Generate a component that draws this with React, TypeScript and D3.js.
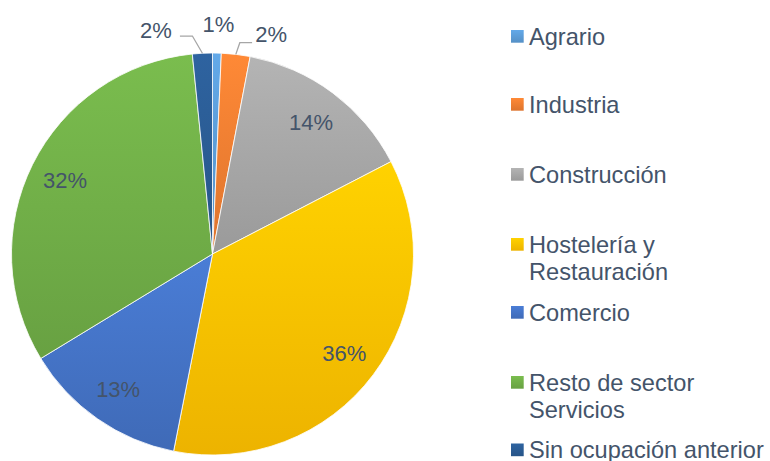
import React from "react";
import * as d3 from "d3";

const categories = [
  "Agrario",
  "Industria",
  "Construcción",
  "Hostelería y Restauración",
  "Comercio",
  "Resto de sector Servicios",
  "Sin ocupación anterior",
];
const values = [0.7, 2.3, 14.4, 35.7, 13.2, 32.1, 1.6];
const colors = ["#5B9BD5", "#ED7D31", "#A5A5A5", "#FFC000", "#4472C4", "#70AD47", "#2A5B92"];
const legendLines = [
  ["Agrario"],
  ["Industria"],
  ["Construcción"],
  ["Hostelería y", "Restauración"],
  ["Comercio"],
  ["Resto de sector", "Servicios"],
  ["Sin ocupación anterior"],
];
const legendRowY = [36.5, 104.5, 174.5, 244.5, 312.5, 382.5, 450];

const W = 770;
const H = 461;
const cx = 212.5;
const cy = 254;
const R = 201;
const TEXT = "#44546A";
const FONT = "Liberation Sans, Arial, sans-serif";

export default function App() {
  const total = d3.sum(values);
  const pie = d3.pie<number>().sort(null).value((d) => d);
  const arcs = pie(values);
  const arc = d3.arc<d3.PieArcDatum<number>>().innerRadius(0).outerRadius(R);
  const labelArc = d3.arc<d3.PieArcDatum<number>>().innerRadius(R * 0.82).outerRadius(R * 0.82);

  const outside: Record<number, { r: number; da: number; leader: "left" | "right" | null }> = {
    0: { r: 230, da: 0.2, leader: null },
    1: { r: 227, da: 8.3, leader: "right" },
    6: { r: 231, da: -11.3, leader: "left" },
  };

  const polar = (r: number, a: number) => [cx + r * Math.sin(a), cy - r * Math.cos(a)];

  return (
    <svg width={W} height={H} style={{ position: "absolute", left: 0, top: 0, background: "#fff" }}>
      <defs>
        {colors.map((c, i) => (
          <linearGradient key={i} id={`g${i}`} x1="0" y1="0" x2="0" y2="1">
            <stop offset="0" stopColor={d3.color(c)!.brighter(0.25).formatHex()} />
            <stop offset="1" stopColor={d3.color(c)!.darker(0.2).formatHex()} />
          </linearGradient>
        ))}
      </defs>
      <g transform={`translate(${cx},${cy})`}>
        {arcs.map((a, i) => (
          <path key={i} d={arc(a)!} fill={`url(#g${i})`} stroke="#fff" strokeWidth={0.8} />
        ))}
      </g>
      {arcs.map((a, i) => {
        const pct = Math.round((a.value / total) * 100) + "%";
        const mid = (a.startAngle + a.endAngle) / 2;
        const o = outside[i];
        if (!o) {
          const [x, y] = labelArc.centroid(a);
          return (
            <text key={i} x={cx + x} y={cy + y} dy="0.35em" textAnchor="middle"
              fontFamily={FONT} fontSize={22} fill={TEXT}>{pct}</text>
          );
        }
        const la = mid + (o.da * Math.PI) / 180;
        const [lx, ly] = polar(o.r, la);
        const [ex, ey] = polar(R, mid);
        let leader = null;
        if (o.leader === "left") {
          const elbowX = ex - 10;
          const elbowY = ly + 6;
          leader = <polyline points={`${ex},${ey} ${elbowX},${elbowY} ${lx + 24},${elbowY}`} fill="none" stroke="#A6A6A6" strokeWidth={1.3} />;
        } else if (o.leader === "right") {
          const elbowX = ex + 4;
          const elbowY = ly + 8;
          leader = <polyline points={`${ex},${ey} ${elbowX},${elbowY} ${lx - 19},${elbowY}`} fill="none" stroke="#A6A6A6" strokeWidth={1.3} />;
        }
        return (
          <g key={i}>
            {leader}
            <text x={lx} y={ly} dy="0.35em" textAnchor="middle" fontFamily={FONT} fontSize={22} fill={TEXT}>{pct}</text>
          </g>
        );
      })}
      <g>
        {categories.map((c, i) => (
          <g key={c} transform={`translate(511,${legendRowY[i]})`}>
            <rect x={0} y={-6.5} width={12.7} height={12.7} fill={`url(#g${i})`} />
            {legendLines[i].map((t, j) => (
              <text key={j} x={18} y={j * 27} dy="0.35em" fontFamily={FONT} fontSize={23.6} fill={TEXT}>{t}</text>
            ))}
          </g>
        ))}
      </g>
    </svg>
  );
}
